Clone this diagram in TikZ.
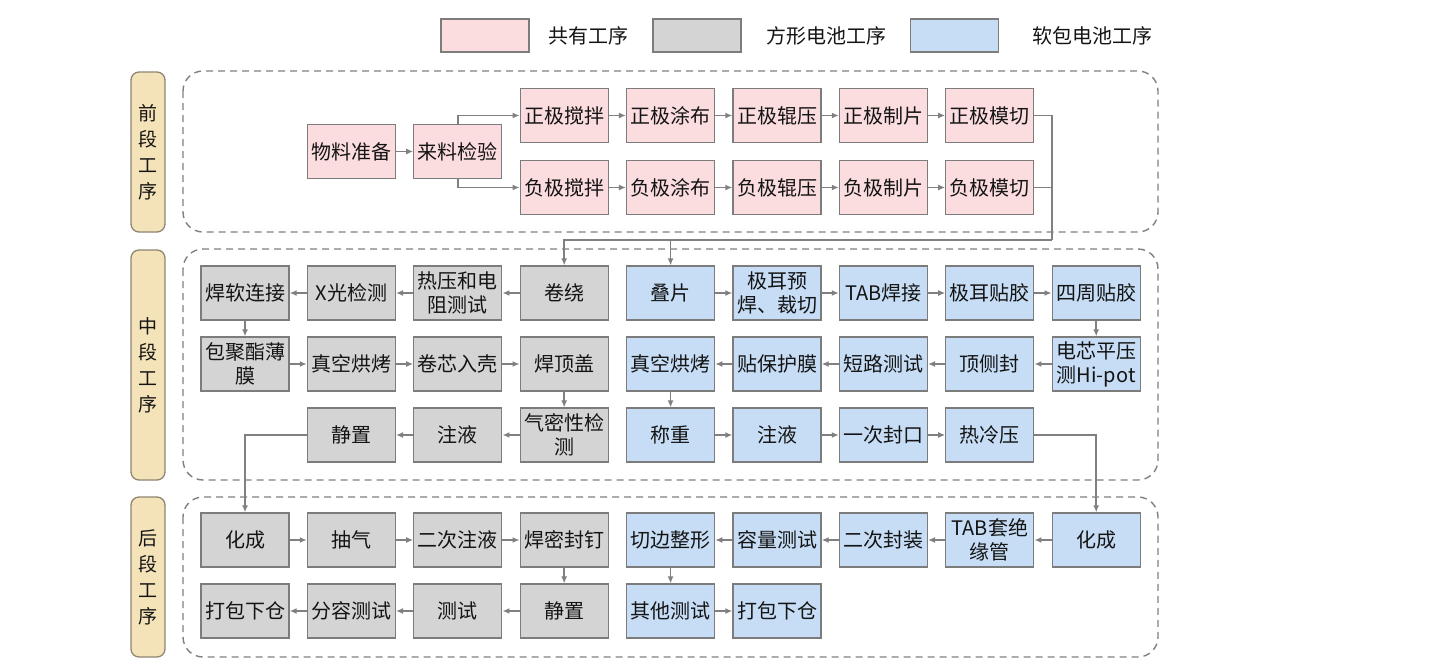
\documentclass[tikz,border=0pt]{standalone}
\usepackage{fontspec}
\setmainfont{Noto Sans CJK SC}
\usetikzlibrary{arrows.meta}
\definecolor{pinkf}{HTML}{FBDDE0}
\definecolor{grayf}{HTML}{D4D4D4}
\definecolor{bluef}{HTML}{C6DDF5}
\definecolor{tanf}{HTML}{F4E3B9}
\definecolor{tanb}{HTML}{8F8570}
\definecolor{edge}{HTML}{7C7C7C}
\definecolor{linec}{HTML}{808080}
\definecolor{txt}{HTML}{141414}
\tikzset{
  box/.style={draw=edge, line width=1.3pt, minimum width=88pt, minimum height=54pt,
    inner sep=0pt, align=center, text=txt, font=\fontsize{20}{24}\selectfont},
  pk/.style={box, fill=pinkf},
  gy/.style={box, fill=grayf},
  bl/.style={box, fill=bluef},
  region/.style={draw=linec, line width=1.4pt, dash pattern=on 7pt off 5pt, rounded corners=20pt},
  sect/.style={draw=tanb, fill=tanf, line width=1.3pt, rounded corners=8pt},
  secttext/.style={align=center, text=txt, font=\fontsize{19}{26}\selectfont},
  legbox/.style={draw=edge, line width=1.3pt, minimum width=88pt, minimum height=33pt, inner sep=0pt},
  legtext/.style={anchor=west, text=txt, font=\fontsize{20}{24}\selectfont},
  ln/.style={draw=linec, line width=1.5pt},
  arr/.style={ln, -{Latex[length=7pt,width=6pt]}},
}
\begin{document}
\begin{tikzpicture}[x=1pt,y=-1pt]
\useasboundingbox (0,0) rectangle (1440,670);
% legend
\node[legbox, fill=pinkf] (lg1) at (485,35.5) {};
\node[legtext] (lt1) at (545,35.5) {共有工序};
\node[legbox, fill=grayf] (lg2) at (697,35.5) {};
\node[legtext] (lt2) at (763,35.5) {方形电池工序};
\node[legbox, fill=bluef] (lg3) at (954.5,35.5) {};
\node[legtext] (lt3) at (1029,35.5) {软包电池工序};
% regions
\draw[region] (183,71) rectangle (1158,232);
\draw[region] (183,249) rectangle (1158,480);
\draw[region] (183,497) rectangle (1158,657);
% section labels
\draw[sect] (131,72) rectangle (165,232);
\node[secttext] (s1) at (148,152) {前\\段\\工\\序};
\draw[sect] (131,250) rectangle (165,480);
\node[secttext] (s2) at (148,365) {中\\段\\工\\序};
\draw[sect] (131,497) rectangle (165,657);
\node[secttext] (s3) at (148,577) {后\\段\\工\\序};
% front
\node[pk] (wl) at (351.4,151.5) {物料准备};
\node[pk] (ll) at (457.8,151.5) {来料检验};
\node[pk] (p1) at (564.2,115.5) {正极搅拌};
\node[pk] (p2) at (670.6,115.5) {正极涂布};
\node[pk] (p3) at (777,115.5) {正极辊压};
\node[pk] (p4) at (883.4,115.5) {正极制片};
\node[pk] (p5) at (989.8,115.5) {正极模切};
\node[pk] (n1) at (564.2,187.5) {负极搅拌};
\node[pk] (n2) at (670.6,187.5) {负极涂布};
\node[pk] (n3) at (777,187.5) {负极辊压};
\node[pk] (n4) at (883.4,187.5) {负极制片};
\node[pk] (n5) at (989.8,187.5) {负极模切};
% middle gray
\node[gy] (gjr) at (564.2,293) {卷绕};
\node[gy] (gry) at (457.8,293) {热压和电\\阻测试};
\node[gy] (gx) at (351.4,293) {X光检测};
\node[gy] (gh) at (245,293) {焊软连接};
\node[gy] (gb) at (245,364) {包聚酯薄\\膜};
\node[gy] (gzk) at (351.4,364) {真空烘烤};
\node[gy] (grk) at (457.8,364) {卷芯入壳};
\node[gy] (gdg) at (564.2,364) {焊顶盖};
\node[gy] (gqm) at (564.2,435) {气密性检\\测};
\node[gy] (gzy) at (457.8,435) {注液};
\node[gy] (gjz) at (351.4,435) {静置};
% middle blue
\node[bl] (bdp) at (670.6,293) {叠片};
\node[bl] (bje) at (777,293) {极耳预\\焊、裁切};
\node[bl] (btab) at (883.4,293) {TAB焊接};
\node[bl] (bjt) at (989.8,293) {极耳贴胶};
\node[bl] (bsz) at (1096.2,293) {四周贴胶};
\node[bl] (bdx) at (1096.2,364) {电芯平压\\测Hi-pot};
\node[bl] (bdc) at (989.8,364) {顶侧封};
\node[bl] (bdl) at (883.4,364) {短路测试};
\node[bl] (btb) at (777,364) {贴保护膜};
\node[bl] (bzk) at (670.6,364) {真空烘烤};
\node[bl] (bcz) at (670.6,435) {称重};
\node[bl] (bzy) at (777,435) {注液};
\node[bl] (byc) at (883.4,435) {一次封口};
\node[bl] (brl) at (989.8,435) {热冷压};
% rear gray
\node[gy] (rhc) at (245,540) {化成};
\node[gy] (rcq) at (351.4,540) {抽气};
\node[gy] (rec) at (457.8,540) {二次注液};
\node[gy] (rhm) at (564.2,540) {焊密封钉};
\node[gy] (rjz) at (564.2,611) {静置};
\node[gy] (rcs) at (457.8,611) {测试};
\node[gy] (rfr) at (351.4,611) {分容测试};
\node[gy] (rdb) at (245,611) {打包下仓};
% rear blue
\node[bl] (shc) at (1096.2,540) {化成};
\node[bl] (stab) at (989.8,540) {TAB套绝\\缘管};
\node[bl] (sec) at (883.4,540) {二次封装};
\node[bl] (srl) at (777,540) {容量测试};
\node[bl] (sqb) at (670.6,540) {切边整形};
\node[bl] (sqt) at (670.6,611) {其他测试};
\node[bl] (sdb) at (777,611) {打包下仓};
% front connectors
\draw[arr] (wl) -- (ll);
\draw[arr] (ll.north) |- (p1.west);
\draw[arr] (ll.south) |- (n1.west);
\draw[arr] (p1) -- (p2); \draw[arr] (p2) -- (p3); \draw[arr] (p3) -- (p4); \draw[arr] (p4) -- (p5);
\draw[arr] (n1) -- (n2); \draw[arr] (n2) -- (n3); \draw[arr] (n3) -- (n4); \draw[arr] (n4) -- (n5);
\coordinate (jt) at (1052,240);
\draw[ln] (p5.east) -| (jt);
\draw[ln] (n5.east) -| (jt);
\draw[arr] (jt) -| (gjr.north);
\draw[arr] (bdp.north |- jt) -- (bdp.north);
% middle gray connectors
\draw[arr] (gjr) -- (gry); \draw[arr] (gry) -- (gx); \draw[arr] (gx) -- (gh);
\draw[arr] (gh) -- (gb);
\draw[arr] (gb) -- (gzk); \draw[arr] (gzk) -- (grk); \draw[arr] (grk) -- (gdg);
\draw[arr] (gdg) -- (gqm);
\draw[arr] (gqm) -- (gzy); \draw[arr] (gzy) -- (gjz);
\draw[arr] (gjz.west) -| (rhc.north);
% middle blue connectors
\draw[arr] (bdp) -- (bje); \draw[arr] (bje) -- (btab); \draw[arr] (btab) -- (bjt); \draw[arr] (bjt) -- (bsz);
\draw[arr] (bsz) -- (bdx);
\draw[arr] (bdx) -- (bdc); \draw[arr] (bdc) -- (bdl); \draw[arr] (bdl) -- (btb); \draw[arr] (btb) -- (bzk);
\draw[arr] (bzk) -- (bcz);
\draw[arr] (bcz) -- (bzy); \draw[arr] (bzy) -- (byc); \draw[arr] (byc) -- (brl);
\draw[arr] (brl.east) -| (shc.north);
% rear connectors
\draw[arr] (rhc) -- (rcq); \draw[arr] (rcq) -- (rec); \draw[arr] (rec) -- (rhm);
\draw[arr] (rhm) -- (rjz);
\draw[arr] (rjz) -- (rcs); \draw[arr] (rcs) -- (rfr); \draw[arr] (rfr) -- (rdb);
\draw[arr] (shc) -- (stab); \draw[arr] (stab) -- (sec); \draw[arr] (sec) -- (srl); \draw[arr] (srl) -- (sqb);
\draw[arr] (sqb) -- (sqt);
\draw[arr] (sqt) -- (sdb);
\end{tikzpicture}
\end{document}
